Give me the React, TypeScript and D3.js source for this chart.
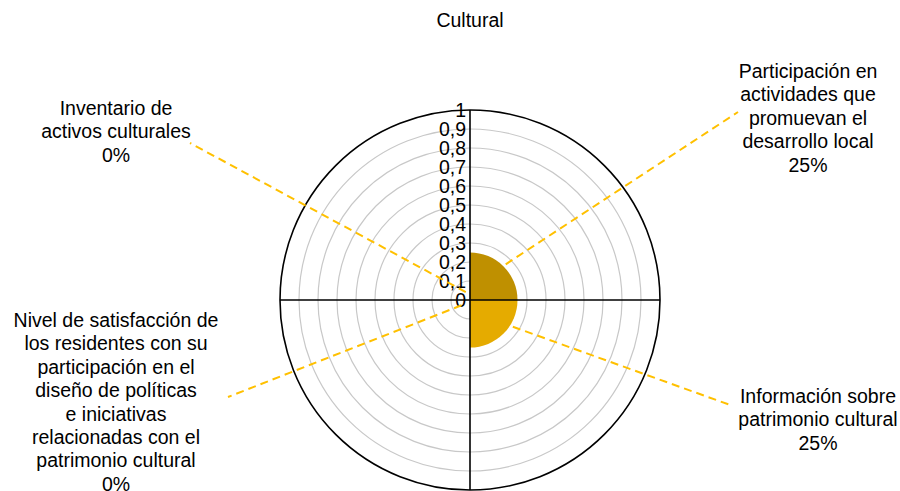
import React from "react";
import * as d3 from "d3";

const categories = [
  "Participación en actividades que promuevan el desarrollo local",
  "Información sobre patrimonio cultural",
  "Nivel de satisfacción de los residentes con su participación en el diseño de políticas e iniciativas relacionadas con el patrimonio cultural",
  "Inventario de activos culturales",
];
const values = [0.25, 0.25, 0, 0];
const percentLabels = ["25%", "25%", "0%", "0%"];
const labelLines = [
  ["Participación en", "actividades que", "promuevan el", "desarrollo local"],
  ["Información sobre", "patrimonio cultural"],
  [
    "Nivel de satisfacción de",
    "los residentes con su",
    "participación en el",
    "diseño de políticas",
    "e iniciativas",
    "relacionadas con el",
    "patrimonio cultural",
  ],
  ["Inventario de", "activos culturales"],
];
const ticks = [0, 0.1, 0.2, 0.3, 0.4, 0.5, 0.6, 0.7, 0.8, 0.9, 1];
const sliceColors = ["#BF9000", "#E5AB00", "#C99A00", "#D9A300"];

// layout (positions only)
const W = 900;
const H = 491;
const cx = 470;
const cy = 300;
const R = 190;
const FONT = "'Liberation Sans', Arial, sans-serif";
const labelLayout = [
  { x: 808, y: 78, lx: 738, ly: 112, a: 45, rOff: 3 },
  { x: 818, y: 403, lx: 733, ly: 406, a: 122, rOff: 3 },
  { x: 116, y: 327, lx: 228, ly: 397, a: 238, rOff: 10 },
  { x: 116, y: 115, lx: 190, ly: 143, a: 332, rOff: 9 },
];
const lineH = 23.4;

export default function App() {
  const r = d3.scaleLinear().domain([0, 1]).range([0, R]);
  const arc = d3.arc<any>();
  const step = (2 * Math.PI) / categories.length;
  const polar = (deg: number, rad: number) => {
    const t = (deg * Math.PI) / 180;
    return [cx + rad * Math.sin(t), cy - rad * Math.cos(t)];
  };
  return (
    <svg
      width={W}
      height={H}
      style={{ position: "absolute", left: 0, top: 0, background: "#fff" }}
      fontFamily={FONT}
    >
      <text x={cx} y={27} textAnchor="middle" fontSize={19.5} fill="#000">
        Cultural
      </text>
      {ticks.slice(1, -1).map((t) => (
        <circle key={t} cx={cx} cy={cy} r={r(t)} fill="none" stroke="#C8C8C8" strokeWidth={1.2} />
      ))}
      {values.map((v, i) => (
        <path
          key={i}
          transform={`translate(${cx},${cy})`}
          d={
            arc({
              innerRadius: 0,
              outerRadius: r(v),
              startAngle: i * step,
              endAngle: (i + 1) * step,
            }) || ""
          }
          fill={sliceColors[i]}
        />
      ))}
      <circle cx={cx} cy={cy} r={r(1)} fill="none" stroke="#000" strokeWidth={1.6} />
      <line x1={cx - R} x2={cx + R} y1={cy} y2={cy} stroke="#000" strokeWidth={1.6} />
      <line x1={cx} x2={cx} y1={cy - R} y2={cy + R} stroke="#000" strokeWidth={1.6} />
      {ticks.map((t) => (
        <text
          key={t}
          x={cx - 4}
          y={cy - r(t)}
          dy="0.36em"
          textAnchor="end"
          fontSize={19.5}
          fill="#000"
        >
          {String(t).replace(".", ",")}
        </text>
      ))}
      {values.map((v, i) => {
        const L = labelLayout[i];
        const [sx, sy] = polar(L.a, r(v) + L.rOff);
        return (
          <line
            key={i}
            x1={sx}
            y1={sy}
            x2={L.lx}
            y2={L.ly}
            stroke="#FFC000"
            strokeWidth={2}
            strokeDasharray="8,5"
          />
        );
      })}
      {labelLines.map((lines, i) => {
        const L = labelLayout[i];
        const all = [...lines, percentLabels[i]];
        return (
          <text key={i} textAnchor="middle" fontSize={19.5} fill="#000">
            {all.map((s, j) => (
              <tspan key={j} x={L.x} y={L.y + j * lineH}>
                {s}
              </tspan>
            ))}
          </text>
        );
      })}
    </svg>
  );
}
